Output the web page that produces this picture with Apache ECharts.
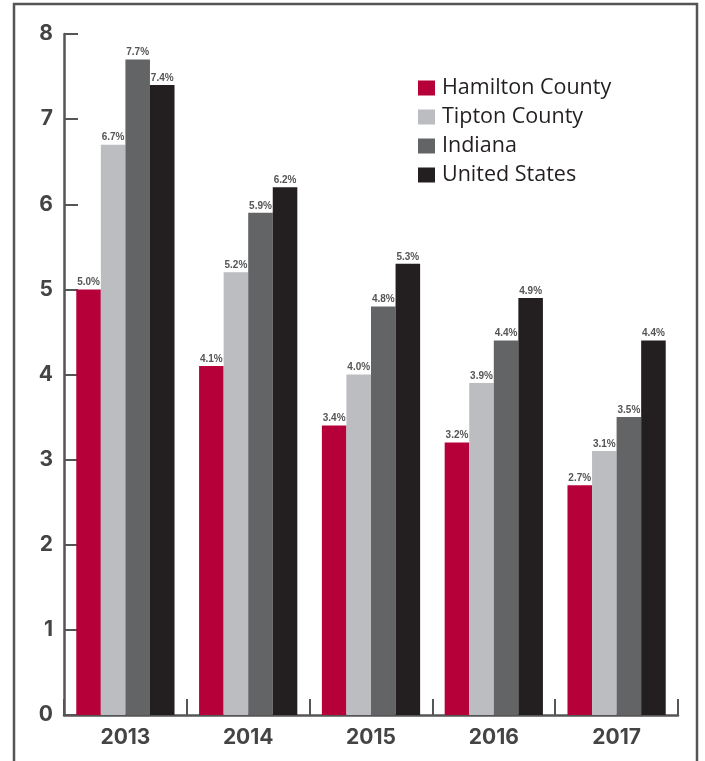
<!DOCTYPE html>
<html>
<head>
<meta charset="utf-8">
<style>
  html, body { margin: 0; padding: 0; background: #fff; }
  #chart { width: 705px; height: 761px; }
</style>
<script src="https://cdn.jsdelivr.net/npm/echarts@6/dist/echarts.min.js"></script>
</head>
<body>
<div id="chart"></div>
<script>
// Unemployment rate by year (percent)
const years = ['2013', '2014', '2015', '2016', '2017'];
const hamilton = [5.0, 4.1, 3.4, 3.2, 2.7];
const tipton = [6.7, 5.2, 4.0, 3.9, 3.1];
const indiana = [7.7, 5.9, 4.8, 4.4, 3.5];
const unitedStates = [7.4, 6.2, 5.3, 4.9, 4.4];
const yTicks = [0, 1, 2, 3, 4, 5, 6, 7, 8];

const seriesDefs = [
  { name: 'Hamilton County', data: hamilton, color: '#b5003a' },
  { name: 'Tipton County', data: tipton, color: '#bcbdc0' },
  { name: 'Indiana', data: indiana, color: '#636466' },
  { name: 'United States', data: unitedStates, color: '#231f20' }
];

const chart = echarts.init(document.getElementById('chart'));
const frameColor = '#555';
const axisFont = 'Inter';

chart.setOption({
  animation: false,
  grid: { left: 64, right: 27, top: 34, bottom: 46, containLabel: false },
  legend: {
    orient: 'vertical',
    left: 413,
    top: 72,
    itemWidth: 17,
    itemHeight: 15,
    itemGap: 7,
    icon: 'rect',
    textStyle: {
      fontFamily: 'Open Sans',
      fontSize: 21.5,
      color: '#231f20',
      padding: [0, 0, 0, 2]
    },
    data: seriesDefs.map(s => s.name)
  },
  xAxis: {
    type: 'category',
    data: years,
    boundaryGap: true,
    axisLine: { lineStyle: { color: frameColor, width: 2.5 } },
    axisTick: { show: true, inside: true, length: 16, lineStyle: { color: frameColor, width: 2 } },
    axisLabel: {
      color: '#444',
      fontFamily: axisFont,
      fontWeight: 'bold',
      fontSize: 21,
      margin: 12
    }
  },
  yAxis: {
    type: 'value',
    min: yTicks[0],
    max: yTicks[yTicks.length - 1],
    interval: 1,
    splitLine: { show: false },
    axisLine: { show: true, lineStyle: { color: frameColor, width: 2.5 } },
    axisTick: { show: true, inside: true, length: 14, lineStyle: { color: frameColor, width: 2 } },
    axisLabel: {
      color: '#444',
      fontFamily: axisFont,
      fontWeight: 'bold',
      fontSize: 21,
      margin: 11,
      padding: [6, 0, 0, 0]
    }
  },
  series: seriesDefs.map(s => ({
    name: s.name,
    type: 'bar',
    data: s.data,
    barGap: '0%',
    barCategoryGap: '20%',
    itemStyle: { color: s.color },
    label: {
      show: true,
      position: 'top',
      distance: 2,
      formatter: p => p.value.toFixed(1) + '%',
      color: '#555',
      fontFamily: 'Liberation Sans',
      fontWeight: 'bold',
      fontSize: 10
    }
  })),
  graphic: [
    {
      type: 'polyline',
      silent: true,
      shape: { points: [[14, 761], [14, 4], [697, 4], [697, 761]] },
      style: { stroke: frameColor, lineWidth: 2.5, fill: null }
    }
  ]
});
</script>
</body>
</html>
